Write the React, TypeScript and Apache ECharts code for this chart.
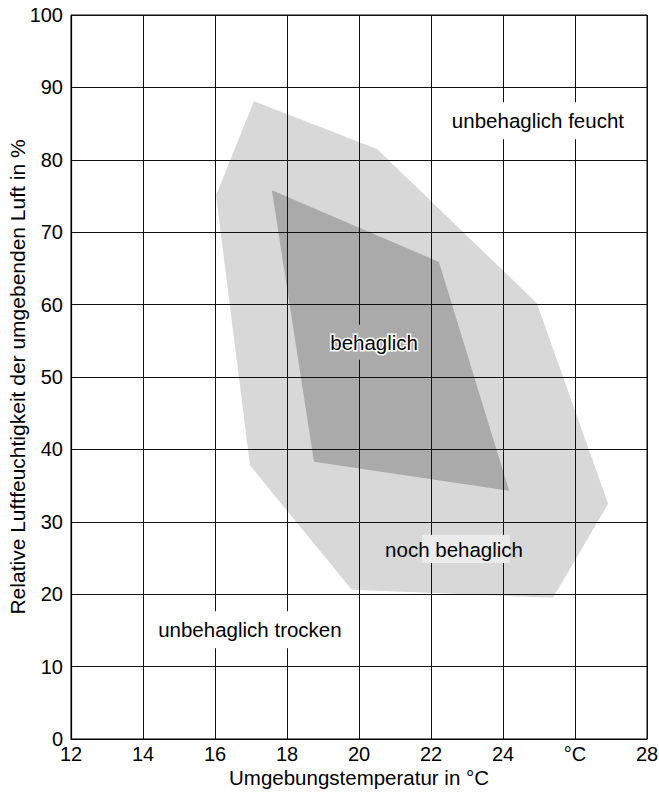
import React, { useEffect, useRef } from "react";
import * as echarts from "echarts";

// Temperature (°C), relative humidity (%)
const xTicks = [12, 14, 16, 18, 20, 22, 24, 26, 28];
const xTickLabels = ["12", "14", "16", "18", "20", "22", "24", "°C", "28"];
const yTicks = [0, 10, 20, 30, 40, 50, 60, 70, 80, 90, 100];

const nochBehaglichZone: [number, number][] = [
  [16.03, 75.1],
  [17.08, 88.1],
  [20.5, 81.5],
  [24.94, 60.2],
  [26.92, 32.5],
  [25.39, 19.5],
  [19.8, 20.6],
  [16.97, 37.8],
];

const behaglichZone: [number, number][] = [
  [17.58, 75.8],
  [22.22, 65.9],
  [24.17, 34.3],
  [18.75, 38.3],
];

const labelNames = ["unbehaglich feucht", "behaglich", "noch behaglich", "unbehaglich trocken"];
const labelX = [24.97, 20.42, 22.64, 16.97];
const labelY = [85.4, 54.8, 26.2, 15.1];

const highlightBox: [number, number][] = [
  [21.75, 24.3],
  [24.19, 28.2],
];

const FONT = "'Liberation Sans', Arial, Helvetica, sans-serif";
const LIGHT = "#d8d8d8";
const DARK = "#aaaaaa";

function polygonSeries(name: string, pts: [number, number][], color: string, z: number) {
  return {
    type: "custom",
    name,
    z,
    data: pts,
    encode: { x: 0, y: 1 },
    renderItem: (params: any, api: any) => {
      if (params.dataIndex !== 0) return null;
      const points = pts.map((p) => api.coord(p));
      return {
        type: "polygon",
        shape: { points },
        style: { fill: color, stroke: "none" },
      };
    },
  };
}

export default function App() {
  const ref = useRef<HTMLDivElement>(null);
  useEffect(() => {
    if (!ref.current) return;
    const chart = echarts.init(ref.current, null, { renderer: "svg" });
    const labelStyles: any[] = [
      { backgroundColor: "#ffffff", padding: [8, 8, 8, 8] },
      {
        backgroundColor: DARK,
        padding: [7, 3, 7, 3],
        stroke: "#ffffff",
        lineWidth: 3,
      },
      { padding: [4, 4, 4, 4] },
      { backgroundColor: "#ffffff", padding: [8, 8, 8, 8] },
    ];
    const option: any = {
      animation: false,
      backgroundColor: "#ffffff",
      textStyle: { fontFamily: FONT },
      grid: {
        left: 71,
        top: 15,
        right: 12,
        bottom: 55,
        containLabel: false,
        outerBoundsMode: "none",
        show: true,
        borderColor: "#000",
        borderWidth: 1,
        backgroundColor: "transparent",
      },
      xAxis: {
        type: "value",
        min: xTicks[0],
        max: xTicks[xTicks.length - 1],
        interval: 2,
        z: 5,
        name: "Umgebungstemperatur in °C",
        nameLocation: "middle",
        nameGap: 28,
        nameMoveOverlap: false,
        nameTextStyle: { fontSize: 20.5, color: "#000", fontFamily: FONT },
        axisLine: { show: true, lineStyle: { color: "#000", width: 1.2 } },
        axisTick: { show: false },
        axisLabel: {
          fontSize: 20,
          color: "#000",
          fontFamily: FONT,
          margin: 5,
          formatter: (v: number) => {
            const i = xTicks.indexOf(v);
            return i >= 0 ? xTickLabels[i] : String(v);
          },
        },
        splitLine: { show: true, lineStyle: { color: "#111", width: 1 } },
      },
      yAxis: {
        type: "value",
        min: yTicks[0],
        max: yTicks[yTicks.length - 1],
        interval: 10,
        z: 5,
        name: "Relative Luftfeuchtigkeit der umgebenden Luft in %",
        nameLocation: "middle",
        nameGap: 43,
        nameMoveOverlap: false,
        nameTextStyle: { fontSize: 21, color: "#000", fontFamily: FONT },
        axisLine: { show: true, lineStyle: { color: "#000", width: 1.2 } },
        axisTick: { show: false },
        axisLabel: { fontSize: 20, color: "#000", fontFamily: FONT, margin: 8 },
        splitLine: { show: true, lineStyle: { color: "#111", width: 1 } },
      },
      series: [
        polygonSeries("noch behaglich", nochBehaglichZone, LIGHT, 1),
        polygonSeries("behaglich", behaglichZone, DARK, 2),
        {
          type: "custom",
          name: "highlight",
          z: 8,
          data: highlightBox,
          encode: { x: 0, y: 1 },
          renderItem: (params: any, api: any) => {
            if (params.dataIndex !== 0) return null;
            const a = api.coord(highlightBox[0]);
            const b = api.coord(highlightBox[1]);
            return {
              type: "rect",
              shape: {
                x: Math.min(a[0], b[0]),
                y: Math.min(a[1], b[1]),
                width: Math.abs(b[0] - a[0]),
                height: Math.abs(b[1] - a[1]),
              },
              style: { fill: "#ececec" },
            };
          },
        },
        {
          type: "custom",
          name: "labels",
          z: 10,
          silent: true,
          data: labelNames.map((n, i) => [labelX[i], labelY[i]]),
          encode: { x: 0, y: 1 },
          renderItem: (params: any, api: any) => {
            const i = params.dataIndex;
            const p = api.coord([labelX[i], labelY[i]]);
            return {
              type: "text",
              x: p[0],
              y: p[1],
              style: {
                text: labelNames[i],
                fontSize: 20.5,
                fontFamily: FONT,
                fill: "#000",
                align: "center",
                verticalAlign: "middle",
                ...labelStyles[i],
              },
            };
          },
        },
      ],
    };
    chart.setOption(option);
    return () => chart.dispose();
  }, []);
  return (
    <div
      ref={ref}
      style={{ position: "fixed", left: 0, top: 0, width: 659, height: 794, background: "#fff" }}
    />
  );
}
